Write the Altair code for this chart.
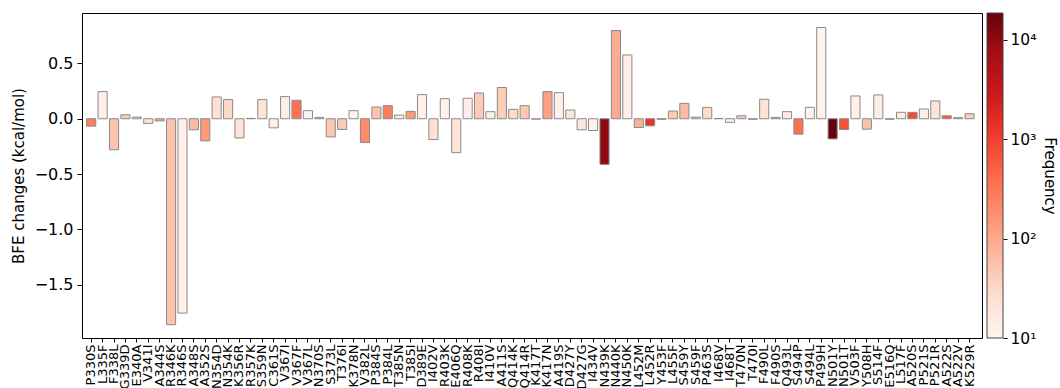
import math

import altair as alt
import pandas as pd

# RBD mutations, binding free energy change and observed frequency
mutations = [
    "P330S", "L335F", "F338L", "G339D", "E340A", "V341I", "A344S", "R346K", "R346S", "A348S",
    "A352S", "N354D", "N354K", "K356R", "R357K", "S359N", "C361S", "V367I", "V367F", "V367L",
    "N370S", "S373L", "T376I", "K378N", "V382L", "P384S", "P384L", "T385N", "T385I", "D389E",
    "I402V", "R403K", "E406Q", "R408K", "R408I", "I410V", "A411S", "Q414K", "Q414R", "K417T",
    "K417N", "A419S", "D427Y", "D427G", "I434V", "N439K", "N440K", "N450K", "L452M", "L452R",
    "Y453F", "L455F", "S459Y", "S459F", "P463S", "I468V", "I468T", "T470N", "T470I", "F490L",
    "F490S", "Q493L", "S494P", "S494L", "P499H", "N501Y", "N501T", "V503F", "Y508H", "S514F",
    "E516Q", "L517F", "A520S", "P521S", "P521R", "A522S", "A522V", "K529R",
]

bfe = [
    -0.067, 0.245, -0.28, 0.036, 0.015, -0.042, -0.02, -1.86, -1.755, -0.10,
    -0.20, 0.197, 0.173, -0.173, 0.003, 0.173, -0.082, 0.20, 0.167, 0.073,
    0.012, -0.164, -0.097, 0.073, -0.215, 0.106, 0.118, 0.033, 0.067, 0.218,
    -0.188, 0.182, -0.306, 0.185, 0.233, 0.064, 0.282, 0.085, 0.118, -0.003,
    0.245, 0.236, 0.079, -0.10, -0.106, -0.412, 0.797, 0.576, -0.079, -0.064,
    -0.005, 0.07, 0.139, 0.015, 0.103, 0.002, -0.033, 0.027, -0.005, 0.176,
    0.012, 0.064, -0.139, 0.103, 0.824, -0.182, -0.097, 0.206, -0.094, 0.215,
    -0.005, 0.058, 0.058, 0.088, 0.161, 0.027, 0.01, 0.045,
]

frequency = [
    260, 13, 52, 45, 20, 21, 95, 52, 12, 65,
    140, 25, 31, 21, 15, 22, 12, 13, 370, 11,
    20, 50, 45, 11, 200, 55, 270, 15, 140, 12,
    25, 12, 23, 14, 45, 13, 42, 30, 48, 30,
    120, 13, 20, 18, 11, 10000, 95, 13, 80, 1350,
    200, 45, 65, 30, 30, 20, 12, 40, 20, 22,
    30, 14, 370, 11, 11, 18600, 720, 12, 55, 14,
    20, 14, 780, 13, 22, 550, 30, 40,
]

y_ticks = [-1.5, -1.0, -0.5, 0.0, 0.5]
color_ticks = [10, 100, 1000, 10000]
color_tick_labels = ["10¹", "10²", "10³", "10⁴"]
freq_min, freq_max = 10, 18600

# ColorBrewer "Reds" ramp
reds = ["#fff5f0", "#fee0d2", "#fcbba1", "#fc9272", "#fb6a4a",
        "#ef3b2c", "#cb181d", "#a50f15", "#67000d"]

# spread the ramp evenly in log space between the colour limits
lo, hi = math.log10(freq_min), math.log10(freq_max)
color_domain = [10 ** (lo + i * (hi - lo) / (len(reds) - 1)) for i in range(len(reds))]

PLOT_W, PLOT_H = 900, 325
CBAR_GAP, CBAR_W = 5, 16

df = pd.DataFrame({"mutation": mutations, "bfe": bfe, "frequency": frequency})

tick_expr = " : ".join(
    f"datum.value == {v} ? '{t}'" for v, t in zip(color_ticks[:-1], color_tick_labels[:-1])
) + f" : '{color_tick_labels[-1]}'"

bars = alt.Chart(df).mark_bar(stroke="#8a8a8a", strokeWidth=1).encode(
    x=alt.X(
        "mutation:N",
        sort=None,
        scale=alt.Scale(paddingInner=0.2, paddingOuter=0.55, align=0.37),
        axis=alt.Axis(
            title=None,
            labelAngle=-90,
            labelFontSize=13,
            labelColor="black",
            labelPadding=2,
            tickSize=4,
            tickColor="black",
            domain=False,
            labelOverlap=False,
        ),
    ),
    y=alt.Y(
        "bfe:Q",
        scale=alt.Scale(domain=[-1.98, 0.955], nice=False, zero=False),
        axis=alt.Axis(
            title="BFE changes (kcal/mol)",
            titleFontSize=15,
            titleFontWeight="normal",
            titleColor="black",
            titlePadding=8,
            values=y_ticks,
            format=".1f",
            labelFontSize=16,
            labelColor="black",
            labelPadding=4,
            tickSize=5,
            tickColor="black",
            grid=False,
            domain=False,
        ),
    ),
    color=alt.Color(
        "frequency:Q",
        scale=alt.Scale(type="log", domain=color_domain, range=reds, interpolate="rgb"),
        legend=None,
    ),
)

# colorbar: one rect spanning the colour limits on its own log axis, filled with the same ramp
colorbar = alt.Chart(pd.DataFrame({"lo": [freq_min], "hi": [freq_max]})).mark_rect(
    fill=alt.Gradient(
        gradient="linear",
        stops=[alt.GradientStop(color=c, offset=i / (len(reds) - 1)) for i, c in enumerate(reds)],
        x1=0, x2=0, y1=1, y2=0,
    ),
    stroke="#444444",
    strokeWidth=1,
).encode(
    x=alt.value(PLOT_W + CBAR_GAP),
    x2=alt.value(PLOT_W + CBAR_GAP + CBAR_W),
    y=alt.Y(
        "lo:Q",
        scale=alt.Scale(type="log", domain=[freq_min, freq_max], nice=False),
        axis=alt.Axis(
            orient="right",
            offset=CBAR_GAP + CBAR_W,
            title="Frequency",
            titleAngle=90,
            titleFontSize=15,
            titleFontWeight="normal",
            titleColor="black",
            titlePadding=6,
            values=color_ticks,
            labelExpr=tick_expr,
            labelFontSize=15.5,
            labelColor="black",
            labelPadding=3,
            tickSize=4,
            tickColor="black",
            grid=False,
            domain=False,
        ),
    ),
    y2="hi:Q",
)

chart = alt.layer(bars, colorbar).resolve_scale(y="independent").properties(
    width=PLOT_W,
    height=PLOT_H,
    autosize=alt.AutoSizeParams(type="none"),
    padding={"left": 82, "top": 13, "right": 78, "bottom": 50},
).configure(
    font="DejaVu Sans",
).configure_view(
    stroke="black",
    strokeWidth=1,
)

chart.save("out.html", embed_options={"renderer": "svg", "actions": False})
